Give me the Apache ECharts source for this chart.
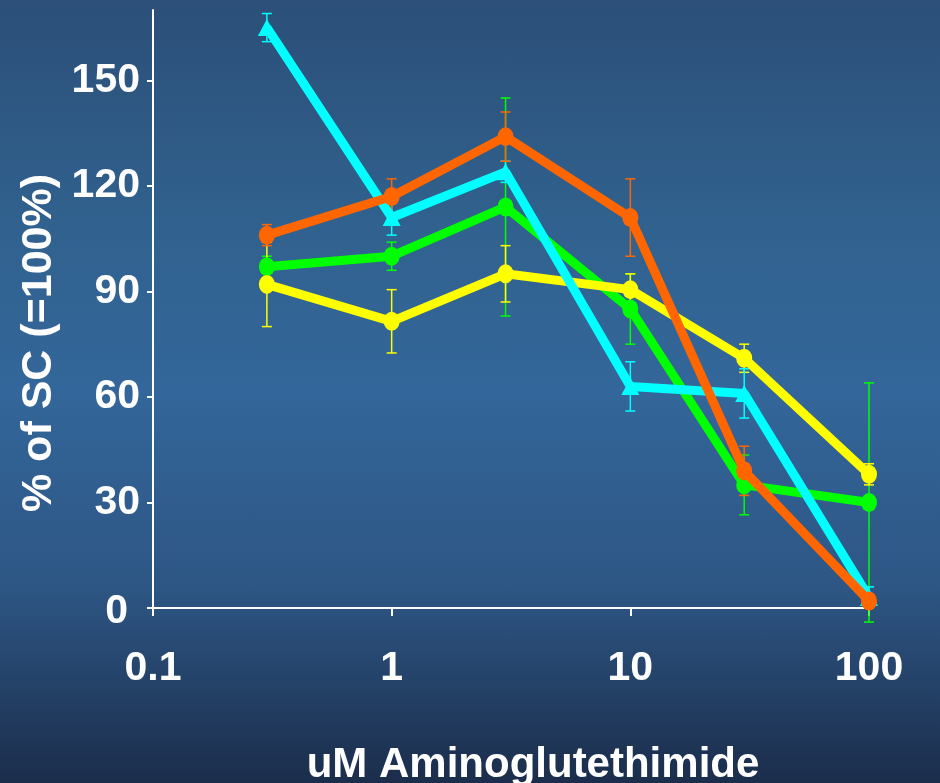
<!DOCTYPE html>
<html>
<head>
<meta charset="utf-8">
<script src="https://cdn.jsdelivr.net/npm/echarts@6/dist/echarts.min.js"></script>
<style>
html,body{margin:0;padding:0;}
#chart{width:940px;height:783px;background:linear-gradient(to bottom,#2b4f78 0%,#31628f 30%,#33669a 50%,#2d5684 75%,#1b2d4b 100%);}
</style>
</head>
<body>
<div id="chart"></div>
<script>
const doses = [0.3, 1, 3, 10, 30, 100];
const yTicks = [0, 30, 60, 90, 120, 150];
const xTicks = [0.1, 1, 10, 100];

const cyanVals = [165, 111, 124, 63, 61, 3];
const cyanErr = [4, 5, 3, 7, 7, 3];
const orangeVals = [106, 117, 134, 111, 39, 2];
const orangeErr = [3, 5, 7, 11, 7, 2];
const greenVals = [97, 100, 114, 85, 35, 30];
const greenErr = [3, 4, 31, 10, 8.5, 34];
const yellowVals = [92, 81.5, 95, 90.5, 71, 38];
const yellowErr = [12, 9, 8, 4.5, 4, 3];

const seriesDefs = [
  {name: 'green', color: '#00ff00', vals: greenVals, err: greenErr, symbol: 'circle', size: [16, 19]},
  {name: 'yellow', color: '#ffff00', vals: yellowVals, err: yellowErr, symbol: 'circle', size: [16, 19]},
  {name: 'cyan', color: '#00ffff', vals: cyanVals, err: cyanErr, symbol: 'triangle', size: [18, 17]},
  {name: 'orange', color: '#ff6600', vals: orangeVals, err: orangeErr, symbol: 'circle', size: [16, 19]}
];

const font = "'Liberation Sans', Arial, sans-serif";
const series = [];
seriesDefs.forEach(function (d, i) {
  const color = d.color;
  series.push({
    type: 'custom',
    name: d.name + '-err',
    z: 1,
    silent: true,
    clip: false,
    data: doses.map(function (x, k) { return [x, d.vals[k] - d.err[k], d.vals[k] + d.err[k]]; }),
    encode: {x: 0, y: [1, 2]},
    renderItem: function (params, api) {
      const x = api.value(0);
      const lo = api.coord([x, api.value(1)]);
      const hi = api.coord([x, api.value(2)]);
      const w = 5;
      const st = {stroke: color, lineWidth: 1.5};
      return {type: 'group', children: [
        {type: 'line', shape: {x1: lo[0], y1: lo[1], x2: hi[0], y2: hi[1]}, style: st},
        {type: 'line', shape: {x1: lo[0] - w, y1: lo[1], x2: lo[0] + w, y2: lo[1]}, style: st},
        {type: 'line', shape: {x1: hi[0] - w, y1: hi[1], x2: hi[0] + w, y2: hi[1]}, style: st}
      ]};
    }
  });
});
seriesDefs.forEach(function (d, i) {
  series.push({
    type: 'line',
    name: d.name,
    z: 3 + i,
    data: doses.map(function (x, k) { return [x, d.vals[k]]; }),
    symbol: d.symbol,
    symbolSize: d.size,
    showAllSymbol: true,
    lineStyle: {color: d.color, width: 9},
    itemStyle: {color: d.color},
    animation: false
  });
});

const chart = echarts.init(document.getElementById('chart'), null, {renderer: 'canvas'});
chart.setOption({
  backgroundColor: 'transparent',
  animation: false,
  grid: {left: 153, right: 71, top: 10, bottom: 175, containLabel: false, outerBoundsMode: 'none'},
  xAxis: {
    type: 'log',
    logBase: 10,
    min: 0.1,
    max: 100,
    name: 'uM Aminoglutethimide',
    nameLocation: 'middle',
    nameGap: 136,
    nameTextStyle: {color: '#ffffff', fontSize: 42, fontWeight: 'bold', fontFamily: font, padding: [0, 0, 0, 44]},
    axisLine: {show: true, lineStyle: {color: '#ffffff', width: 2}},
    axisTick: {show: true, length: 8, lineStyle: {color: '#ffffff', width: 2}},
    minorTick: {show: false},
    splitLine: {show: false},
    axisLabel: {
      color: '#ffffff', fontSize: 41, fontWeight: 'bold', fontFamily: font, margin: 40,
      formatter: function (v) { return String(v); }
    }
  },
  yAxis: {
    type: 'value',
    min: 0,
    max: 170,
    interval: 30,
    name: '% of SC (=100%)',
    nameLocation: 'middle',
    nameGap: 90,
    nameRotate: 90,
    nameTextStyle: {color: '#ffffff', fontSize: 43, fontWeight: 'bold', fontFamily: font, padding: [0, 68, 0, 0]},
    axisLine: {show: true, lineStyle: {color: '#ffffff', width: 2}},
    axisTick: {show: true, length: 6, inside: false, customValues: yTicks, lineStyle: {color: '#ffffff', width: 2}},
    splitLine: {show: false},
    axisLabel: {
      color: '#ffffff', fontSize: 41, fontWeight: 'bold', fontFamily: font, margin: 13,
      customValues: yTicks,
      formatter: function (v) { return v === 0 ? '{z|0}' : String(v); },
      rich: {z: {color: '#ffffff', fontSize: 41, fontWeight: 'bold', fontFamily: font, padding: [8, 12, 0, 0]}}
    }
  },
  series: series
});
</script>
</body>
</html>
